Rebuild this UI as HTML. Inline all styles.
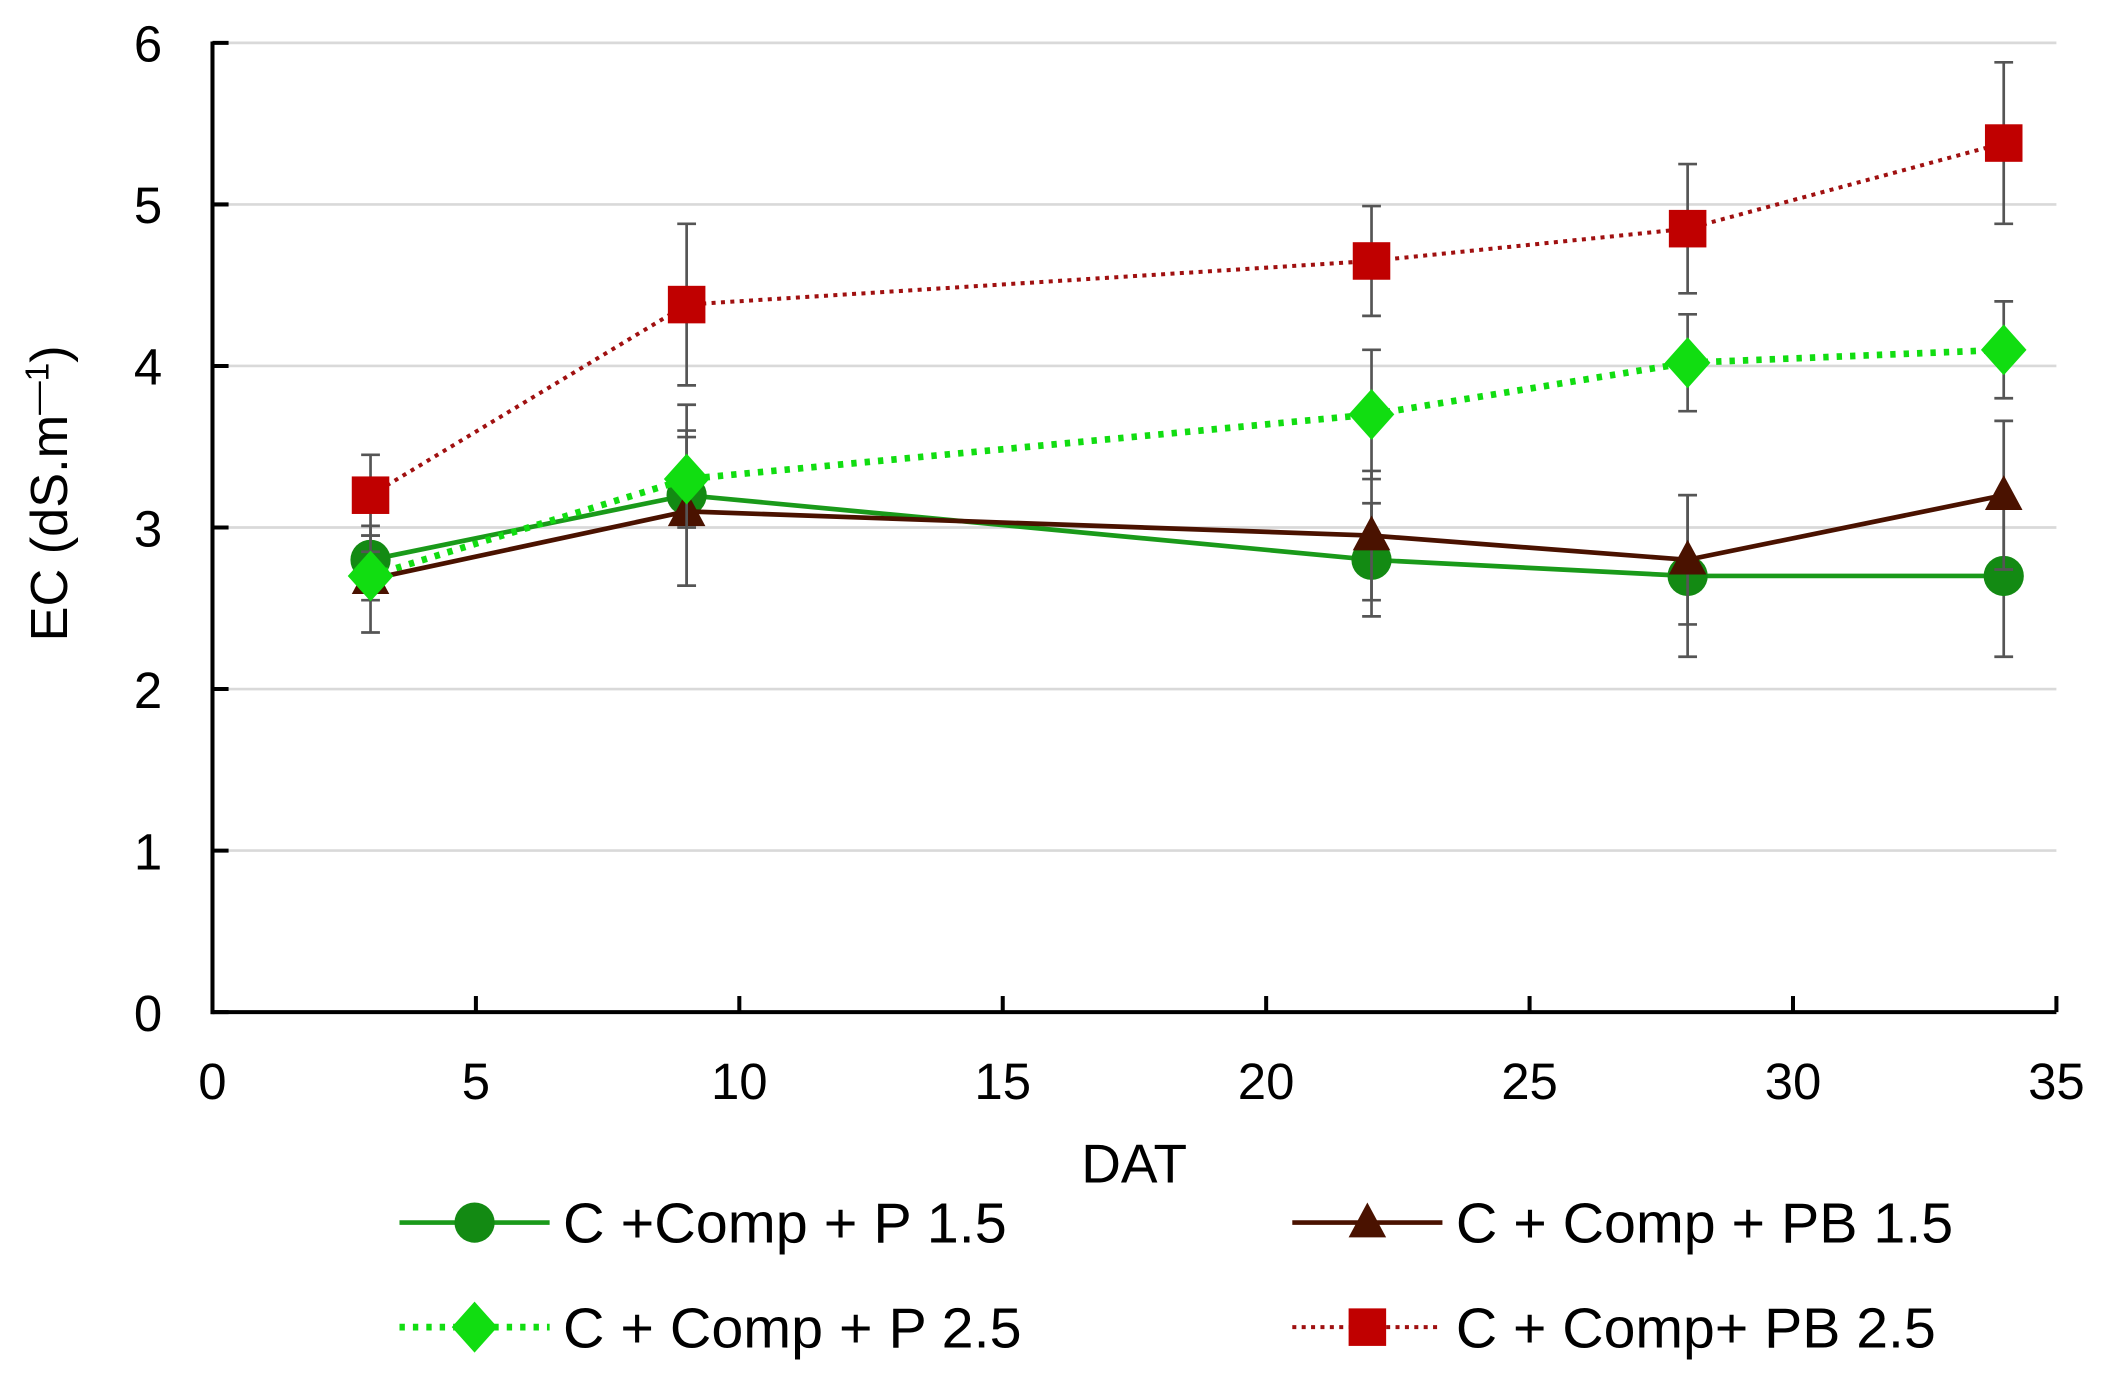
<!DOCTYPE html>
<html><head><meta charset="utf-8"><style>
html,body{margin:0;padding:0;background:#fff;}
svg{display:block;font-family:"Liberation Sans",Arial,sans-serif;}
</style></head><body>
<svg id="chart" width="2102" height="1375" viewBox="0 0 1568 1025.7" xmlns="http://www.w3.org/2000/svg"></svg>
<script>
const days = [3, 9, 22, 28, 34];
const p15 = [2.8, 3.2, 2.8, 2.7, 2.7];
const p15Err = [0.15, 0.56, 0.35, 0.5, 0.5];
const pb15 = [2.68, 3.1, 2.95, 2.8, 3.2];
const pb15Err = [0.33, 0.46, 0.4, 0.4, 0.46];
const p25 = [2.7, 3.3, 3.7, 4.02, 4.1];
const p25Err = [0.15, 0.3, 0.4, 0.3, 0.3];
const pb25 = [3.2, 4.38, 4.65, 4.85, 5.38];
const pb25Err = [0.25, 0.5, 0.34, 0.4, 0.5];
const xTicks = [0, 5, 10, 15, 20, 25, 30, 35];
const yTicks = [0, 1, 2, 3, 4, 5, 6];

const NS = "http://www.w3.org/2000/svg";
const svg = document.getElementById('chart');
const X0 = 158.5, X1 = 1534, Y0 = 755, Y1 = 32;
const xs = v => X0 + (v / 35) * (X1 - X0);
const ys = v => Y0 - (v / 6) * (Y0 - Y1);
function mk(tag, attrs, parent) {
  const e = document.createElementNS(NS, tag);
  for (const k in attrs) e.setAttribute(k, attrs[k]);
  (parent || svg).appendChild(e);
  return e;
}
yTicks.forEach(t => {
  if (t === 0) return;
  const g = mk('line', {x1: X0, x2: X1, y1: ys(t), y2: ys(t), stroke: '#d9d9d9', 'stroke-width': 2});
  
  
});
const ya = mk('line', {x1: X0, x2: X0, y1: Y1 - 1, y2: Y0 + 1.5, stroke: '#000', 'stroke-width': 3});


const xa = mk('line', {x1: X0 - 1.5, x2: X1, y1: Y0, y2: Y0, stroke: '#000', 'stroke-width': 3});


yTicks.forEach(t => {
  mk('line', {x1: X0, x2: X0 + 12, y1: ys(t), y2: ys(t), stroke: '#000', 'stroke-width': 3});
  const l = mk('text', {x: 121, y: ys(t) + 14, 'text-anchor': 'end', 'font-size': 38, fill: '#000'});
  l.textContent = t;
  
  
});
xTicks.forEach(t => {
  if (t > 0) mk('line', {x1: xs(t), x2: xs(t), y1: Y0, y2: Y0 - 12, stroke: '#000', 'stroke-width': 3});
  const l = mk('text', {x: xs(t), y: 820, 'text-anchor': 'middle', 'font-size': 38, fill: '#000'});
  l.textContent = t;
  
  
});
const xt = mk('text', {x: 846, y: 882, 'text-anchor': 'middle', 'font-size': 41, fill: '#000'});
xt.textContent = 'DAT';


const yt = mk('text', {x: 0, y: 0, 'text-anchor': 'middle', 'font-size': 39, fill: '#000', transform: 'translate(50,368) rotate(-90)'});
yt.innerHTML = 'EC (dS.m<tspan dy="-14" font-size="25">—1</tspan><tspan dy="14">)</tspan>';



function marker(type, cx, cy, color, parent) {
  if (type === 'circle') return mk('circle', {cx, cy, r: 15, fill: color}, parent);
  if (type === 'tri') return mk('polygon', {points: `${cx},${cy-15} ${cx+14},${cy+11} ${cx-14},${cy+11}`, fill: color}, parent);
  if (type === 'diamond') return mk('polygon', {points: `${cx},${cy-19} ${cx+17},${cy} ${cx},${cy+19} ${cx-17},${cy}`, fill: color}, parent);
  return mk('rect', {x: cx - 14, y: cy - 14, width: 28, height: 28, fill: color}, parent);
}
const series = [
  {name: 'series-p-1-5', vals: p15, err: p15Err, color: '#1a9a1a', dash: null, w: 3.5, m: 'circle', mcol: '#138a13'},
  {name: 'series-pb-1-5', vals: pb15, err: pb15Err, color: '#4a1200', dash: null, w: 3.5, m: 'tri', mcol: '#4a1200'},
  {name: 'series-p-2-5', vals: p25, err: p25Err, color: '#11dd11', dash: '4 6', w: 5, m: 'diamond', mcol: '#11dd11'},
  {name: 'series-pb-2-5', vals: pb25, err: pb25Err, color: '#a01010', dash: '3 4', w: 3, m: 'rect', mcol: '#c00000'}
];
series.forEach(s => {
  const g = mk('g', {});
  
  
  const pts = days.map((d, i) => xs(d) + ',' + ys(s.vals[i])).join(' ');
  const pl = mk('polyline', {points: pts, fill: 'none', stroke: s.color, 'stroke-width': s.w}, g);
  if (s.dash) pl.setAttribute('stroke-dasharray', s.dash);
  days.forEach((d, i) => {
    const x = xs(d), lo = ys(s.vals[i] - s.err[i]), hi = ys(s.vals[i] + s.err[i]);
    const eb = mk('path', {d: `M${x},${lo}V${hi}M${x-7},${lo}H${x+7}M${x-7},${hi}H${x+7}`, stroke: '#555', 'stroke-width': 2, fill: 'none'}, g);
    
    
  });
  days.forEach((d, i) => {
    const m = marker(s.m, xs(d), ys(s.vals[i]), s.mcol, g);
    
    
  });
});
const legendItems = [
  {x: 298, y: 912, s: series[0], label: 'C +Comp + P 1.5'},
  {x: 964, y: 912, s: series[1], label: 'C + Comp + PB 1.5'},
  {x: 298, y: 990, s: series[2], label: 'C + Comp + P 2.5'},
  {x: 964, y: 990, s: series[3], label: 'C + Comp+ PB 2.5'}
];
const legendLens = [331, 371, 342, 358];
legendItems.forEach((it, i) => {
  const g = mk('g', {});
  
  
  const ln = mk('line', {x1: it.x, x2: it.x + 112, y1: it.y, y2: it.y, stroke: it.s.color, 'stroke-width': it.s.w}, g);
  if (it.s.dash) ln.setAttribute('stroke-dasharray', it.s.dash);
  marker(it.s.m, it.x + 56, it.y, it.s.mcol, g);
  const t = mk('text', {x: it.x + 122, y: it.y + 15, 'font-size': 42, fill: '#000', textLength: legendLens[i], lengthAdjust: 'spacingAndGlyphs'}, g);
  t.textContent = it.label;
});
</script>
</body></html>
